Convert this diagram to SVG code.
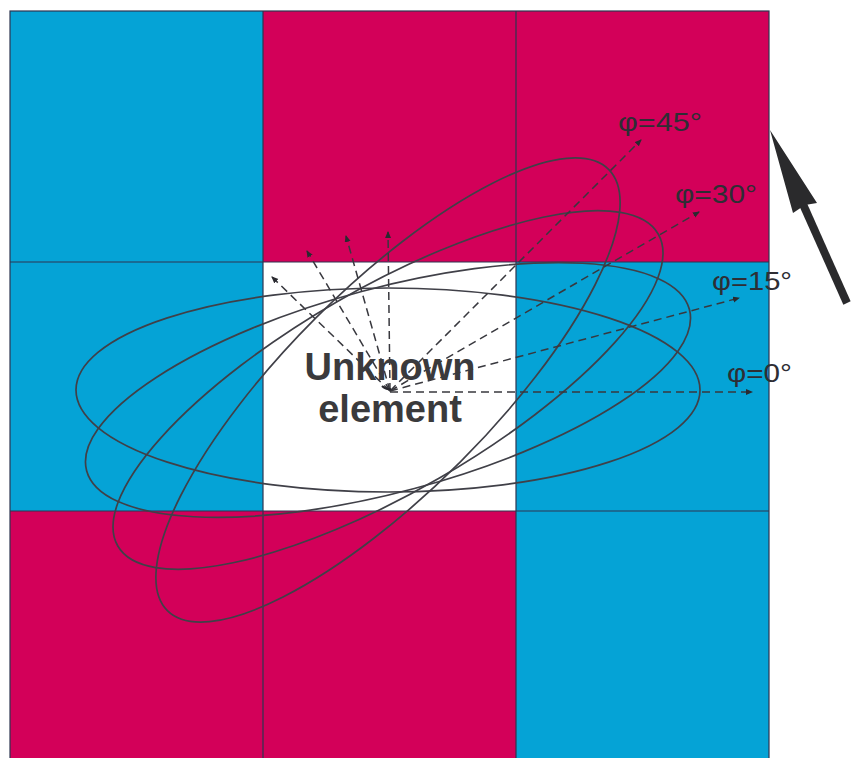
<svg xmlns="http://www.w3.org/2000/svg" width="851" height="758" viewBox="0 0 851 758">
<defs>
<style>
.cy{fill:#05a3d6}
.mg{fill:#d30059}
.wh{fill:#ffffff}
.grid{stroke:#2e3550;stroke-width:1.2;fill:none}
.ell{fill:none;stroke:#404048;stroke-width:1.7}
.dash{stroke:#38383e;stroke-width:1.5;stroke-dasharray:8 5;fill:none;marker-end:url(#ah)}
.lbl{font-family:"Liberation Sans",Arial,sans-serif;font-size:25px;fill:#2e2e34}
.main{font-family:"Liberation Sans",Arial,sans-serif;font-size:38px;font-weight:bold;fill:#3a3a3c;text-anchor:middle}
</style>
<marker id="ah" markerWidth="8" markerHeight="8" refX="6" refY="3" orient="auto" markerUnits="userSpaceOnUse">
<path d="M0,0 L7,3 L0,6 Z" fill="#2a2a30"/>
</marker>
</defs>
<rect width="851" height="758" fill="#ffffff"/>
<g id="cells">
<rect class="cy" x="10" y="11" width="253" height="251"/>
<rect class="mg" x="263" y="11" width="253" height="251"/>
<rect class="mg" x="516" y="11" width="253" height="251"/>
<rect class="cy" x="10" y="262" width="253" height="249"/>
<rect class="wh" x="263" y="262" width="253" height="249"/>
<rect class="cy" x="516" y="262" width="253" height="249"/>
<rect class="mg" x="10" y="511" width="253" height="247"/>
<rect class="mg" x="263" y="511" width="253" height="247"/>
<rect class="cy" x="516" y="511" width="253" height="247"/>
</g>
<g id="gridlines" class="grid">
<rect x="10" y="11" width="759" height="760"/>
<line x1="263" y1="11" x2="263" y2="758"/>
<line x1="516" y1="11" x2="516" y2="758"/>
<line x1="10" y1="262" x2="769" y2="262"/>
<line x1="10" y1="511" x2="769" y2="511"/>
</g>
<g id="ellipses">
<ellipse class="ell" cx="388" cy="390" rx="312" ry="102"/>
<ellipse class="ell" cx="388" cy="390" rx="312" ry="102" transform="rotate(-15 388 390)"/>
<ellipse class="ell" cx="388" cy="390" rx="312" ry="102" transform="rotate(-30 388 390)"/>
<ellipse class="ell" cx="388" cy="390" rx="312" ry="102" transform="rotate(-45 388 390)"/>
</g>
<g id="connectors">
<line class="dash" x1="390" y1="392" x2="752" y2="392"/>
<line class="dash" x1="390" y1="391" x2="739" y2="298"/>
<line class="dash" x1="390" y1="391" x2="699" y2="212"/>
<line class="dash" x1="390" y1="391" x2="641" y2="140"/>
<line class="dash" x1="390" y1="391" x2="388" y2="232"/>
<line class="dash" x1="390" y1="391" x2="346" y2="236"/>
<line class="dash" x1="390" y1="391" x2="307" y2="251"/>
<line class="dash" x1="390" y1="391" x2="272" y2="277"/>
<path d="M382,386 q4,4 9,3" fill="none" stroke="#2a2a30" stroke-width="2"/>
</g>
<g id="center-label">
<text class="main" x="390" y="380">Unknown</text>
<text class="main" x="390" y="422">element</text>
</g>
<g id="labels">
<text class="lbl" x="618" y="131" textLength="84" lengthAdjust="spacingAndGlyphs">φ=45°</text>
<text class="lbl" x="675" y="203" textLength="82" lengthAdjust="spacingAndGlyphs">φ=30°</text>
<text class="lbl" x="712" y="290" textLength="80" lengthAdjust="spacingAndGlyphs">φ=15°</text>
<text class="lbl" x="727" y="382" textLength="65" lengthAdjust="spacingAndGlyphs">φ=0°</text>
</g>
<g id="pointer">
<line x1="847" y1="303" x2="802" y2="202" stroke="#2a2a2c" stroke-width="8"/>
<polygon points="770,130 817,203 805,205 793,213" fill="#2a2a2c"/>
</g>
</svg>
